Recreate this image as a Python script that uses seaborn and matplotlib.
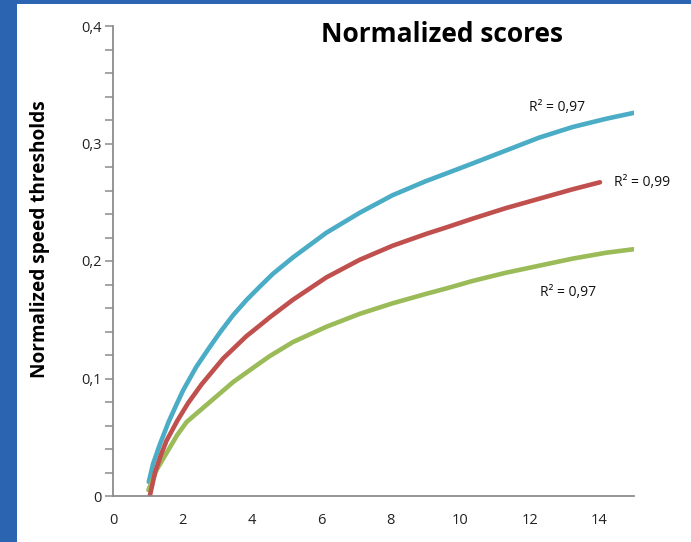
import matplotlib
matplotlib.use("Agg")
import matplotlib.pyplot as plt
from matplotlib.patches import Rectangle
from matplotlib.ticker import MultipleLocator
import seaborn as sns
import pandas as pd

# ---- data ----
blue_x = [1.03, 1.15, 1.35, 1.6, 1.83, 2.02, 2.4, 2.79, 3.1, 3.46, 3.85, 4.22, 4.6, 5.18, 6.14, 7.10, 8.05, 9.01, 9.64, 10.35, 11.31, 12.27, 13.23, 14.19, 14.98]
blue_y = [0.012, 0.027, 0.044, 0.063, 0.078, 0.090, 0.110, 0.127, 0.140, 0.154, 0.167, 0.178, 0.189, 0.203, 0.224, 0.241, 0.256, 0.268, 0.275, 0.283, 0.294, 0.305, 0.314, 0.321, 0.326]

red_x = [1.06, 1.21, 1.38, 1.54, 1.85, 2.16, 2.55, 3.17, 3.84, 4.22, 4.51, 5.18, 6.14, 7.10, 8.05, 9.01, 9.64, 10.35, 11.31, 12.27, 13.23, 14.02]
red_y = [0.0, 0.020, 0.035, 0.047, 0.064, 0.079, 0.095, 0.117, 0.136, 0.145, 0.152, 0.167, 0.186, 0.201, 0.213, 0.223, 0.229, 0.236, 0.245, 0.253, 0.261, 0.267]

green_x = [1.02, 1.25, 1.59, 1.85, 2.12, 2.79, 3.46, 4.22, 4.51, 5.18, 6.14, 7.10, 8.05, 9.01, 9.64, 10.35, 11.31, 12.27, 13.23, 14.19, 14.98]
green_y = [0.005, 0.022, 0.039, 0.052, 0.063, 0.080, 0.097, 0.113, 0.119, 0.131, 0.144, 0.155, 0.164, 0.172, 0.177, 0.183, 0.190, 0.196, 0.202, 0.207, 0.210]

series_names = ["blue", "red", "green"]
series_colors = ["#4bacc6", "#c0504d", "#9bbb59"]
r2_labels = ["R\u00b2 = 0,97", "R\u00b2 = 0,99", "R\u00b2 = 0,97"]

y_ticks = [0.0, 0.1, 0.2, 0.3, 0.4]
y_tick_labels = ["0", "0,1", "0,2", "0,3", "0,4"]
x_ticks = [0, 2, 4, 6, 8, 10, 12, 14]
x_tick_labels = ["0", "2", "4", "6", "8", "10", "12", "14"]

title_text = "Normalized scores"
ylabel_text = "Normalized speed thresholds"

# ---- build long-form table ----
frames = []
for name, xs, ys in zip(series_names, [blue_x, red_x, green_x], [blue_y, red_y, green_y]):
    frames.append(pd.DataFrame({"x": xs, "y": ys, "series": name}))
df = pd.concat(frames, ignore_index=True)

sns.set_theme(style="white")
plt.rcParams["font.family"] = ["Open Sans", "DejaVu Sans"]

W, H = 691, 542
fig = plt.figure(figsize=(W / 100, H / 100), dpi=100)
fig.patch.set_facecolor("#2b64b0")
fig.patches.append(Rectangle((17 / W, 0), 1 - 17 / W, 1 - 4 / H, transform=fig.transFigure,
                             facecolor="white", edgecolor="none", zorder=-5))

ax = fig.add_axes([113 / W, 1 - 496 / H, (634 - 113) / W, (496 - 26) / H])
ax.set_zorder(2)
ax.set_facecolor("none")

sns.lineplot(data=df, x="x", y="y", hue="series", palette=dict(zip(series_names, series_colors)),
             hue_order=["blue", "green", "red"], linewidth=3.3, legend=False, ax=ax,
             sort=True, estimator=None, solid_capstyle="round", solid_joinstyle="round")

ax.set_xlim(0, 15)
ax.set_ylim(0, 0.4)
ax.set_xticks(x_ticks)
ax.set_xticklabels(x_tick_labels, fontsize=10.5)
ax.set_yticks(y_ticks)
ax.set_yticklabels(y_tick_labels, fontsize=10.5)
ax.yaxis.set_minor_locator(MultipleLocator(0.02))
ax.set_xlabel("")
ax.set_ylabel("")

for side in ["top", "right"]:
    ax.spines[side].set_visible(False)
for side in ["left", "bottom"]:
    ax.spines[side].set_color("#8c8c8c")
    ax.spines[side].set_linewidth(1.3)

ax.tick_params(axis="y", which="both", direction="out", length=6, width=1.1, color="#8c8c8c",
               left=True, pad=2, labelcolor="#222222")
ax.tick_params(axis="x", which="both", length=0, pad=12, labelcolor="#222222")

# R² annotations
ann_pos = [(11.98, 0.331), (14.43, 0.267), (12.3, 0.173)]
for (tx, ty), lab in zip(ann_pos, r2_labels):
    ax.text(tx, ty, lab, fontsize=10, ha="left", va="center", color="#111111", clip_on=False)

fig.text(442 / W, 1 - 35 / H, title_text, fontsize=19, fontweight="bold", ha="center",
         va="center", color="black", zorder=3)
fig.text(40 / W, 1 - 239 / H, ylabel_text, fontsize=13.7, fontweight="bold", rotation=90,
         ha="center", va="center", color="black", zorder=3)

fig.savefig("out.png", dpi=100, facecolor=fig.get_facecolor())
